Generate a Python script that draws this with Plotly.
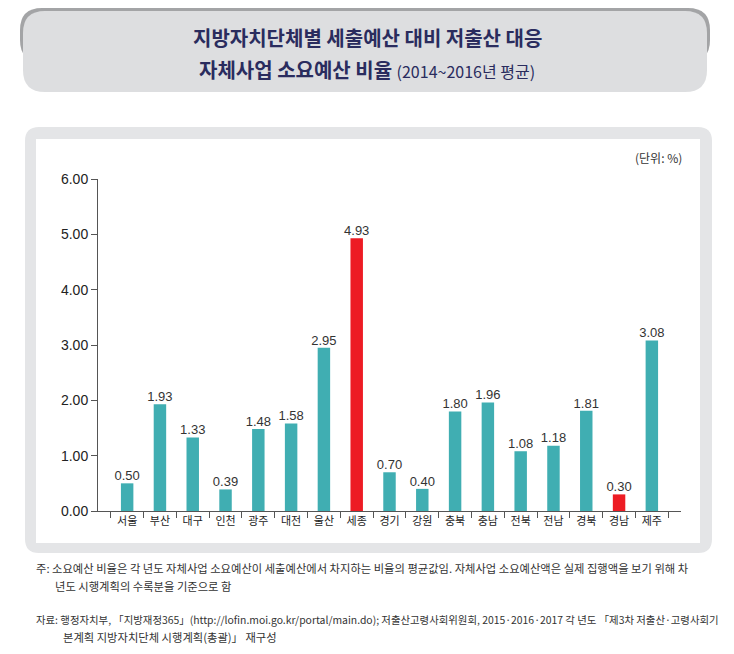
import plotly.graph_objects as go

regions = ["서울", "부산", "대구", "인천", "광주", "대전", "울산", "세종", "경기",
           "강원", "충북", "충남", "전북", "전남", "경북", "경남", "제주"]
values = [0.50, 1.93, 1.33, 0.39, 1.48, 1.58, 2.95, 4.93, 0.70,
          0.40, 1.80, 1.96, 1.08, 1.18, 1.81, 0.30, 3.08]
highlight = ["세종", "경남"]

TEAL = "#40AEB2"
RED = "#ED1C24"
colors = [RED if r in highlight else TEAL for r in regions]

OFF = 8  # page body margin offset
W, H = 734 - OFF, 654 - OFF
L, R, T, B = 98 - OFF, 681 - OFF, 179 - OFF, 511 - OFF  # plot area in pixels


def px(x):
    return (x - OFF - L) / (R - L)


def py(y):
    return (B - (y - OFF)) / (B - T)


def rrect(x0, y0, x1, y1, r):
    rx = r / (R - L)
    ry = r / (B - T)
    X0, X1 = px(x0), px(x1)
    Y0, Y1 = py(y0), py(y1)
    return (f"M {X0+rx},{Y0} L {X1-rx},{Y0} Q {X1},{Y0} {X1},{Y0-ry} "
            f"L {X1},{Y1+ry} Q {X1},{Y1} {X1-rx},{Y1} L {X0+rx},{Y1} "
            f"Q {X0},{Y1} {X0},{Y1+ry} L {X0},{Y0-ry} Q {X0},{Y0} {X0+rx},{Y0} Z")


fig = go.Figure()
fig.add_trace(go.Bar(
    x=regions, y=values, marker=dict(color=colors, line=dict(width=0)),
    width=0.38, hoverinfo="x+y",
))
fig.add_trace(go.Scatter(
    x=regions, y=values, mode="text",
    text=[f"{v:.2f}" for v in values], textposition="top center",
    textfont=dict(size=13, color="#333333", family="Liberation Sans Narrow, Liberation Sans"),
    cliponaxis=False, hoverinfo="skip",
))

shapes = [
    dict(type="path", path=rrect(20, 8, 710, 62, 22), fillcolor="#A3A4A6",
         line=dict(width=0), xref="paper", yref="paper", layer="below"),
    dict(type="path", path=rrect(23, 11, 707, 92, 22), fillcolor="#DDDEE0",
         line=dict(width=0), xref="paper", yref="paper", layer="below"),
    dict(type="path", path=rrect(25, 127, 712, 553, 14), fillcolor="#E4E5E7",
         line=dict(width=0), xref="paper", yref="paper", layer="below"),
    dict(type="rect", x0=px(36), x1=px(700), y0=py(139), y1=py(543),
         fillcolor="white", line=dict(width=0), xref="paper", yref="paper", layer="below"),
]

FONT = "Noto Sans CJK KR"
NAVY = "#2A2C5E"


def note(text, x, y, size=11, anchor="left", color="#333333", family=FONT):
    return dict(text=text, x=px(x), y=py(y), xref="paper", yref="paper", showarrow=False,
                font=dict(size=size, color=color, family=family),
                xanchor=anchor, yanchor="middle")


annotations = [
    note("<b>지방자치단체별 세출예산 대비 저출산 대응</b>", 367, 37, 20, "center", NAVY),
    note("<b>자체사업 소요예산 비율</b> <span style='font-size:16px'>(2014~2016년 평균)</span>",
         367, 70, 20, "center", NAVY),
    note("(단위: %)", 684, 157, 12, "right"),
    note("주: 소요예산 비율은 각 년도 자체사업 소요예산이 세출예산에서 차지하는 비율의 평균값임. 자체사업 소요예산액은 실제 집행액을 보기 위해 차",
         34, 568, 11.3),
    note("년도 시행계획의 수록분을 기준으로 함", 53, 586, 11.3),
    note("자료: 행정자치부, 「지방재정365」(http://lofin.moi.go.kr/portal/main.do); 저출산고령사회위원회, 2015·2016·2017 각 년도 「제3차 저출산·고령사회기",
         34, 619, 10.4),
    note("본계획 지방자치단체 시행계획(총괄)」 재구성", 61, 637, 11.3),
]

fig.update_layout(
    width=W, height=H,
    margin=dict(l=L, r=W - R, t=T, b=H - B, pad=0),
    paper_bgcolor="white", plot_bgcolor="rgba(0,0,0,0)",
    showlegend=False, bargap=0.6,
    shapes=shapes, annotations=annotations,
    font=dict(family=FONT, color="#222222"),
)
fig.update_xaxes(
    showline=True, linecolor="#555555", linewidth=1,
    ticks="outside", tickson="boundaries", ticklen=6, tickcolor="#555555",
    tickfont=dict(size=11, color="#222222", family=FONT),
    showgrid=False, zeroline=False, fixedrange=True,
)
fig.update_yaxes(
    range=[0, 6], dtick=1, tickformat=".2f",
    showline=True, linecolor="#555555", linewidth=1,
    ticks="outside", ticklen=6, tickcolor="#555555",
    tickfont=dict(size=14, color="#222222", family="Liberation Sans Narrow, Liberation Sans"),
    showgrid=False, zeroline=False, fixedrange=True,
)

fig.write_html("out.html", config={"displayModeBar": False})
